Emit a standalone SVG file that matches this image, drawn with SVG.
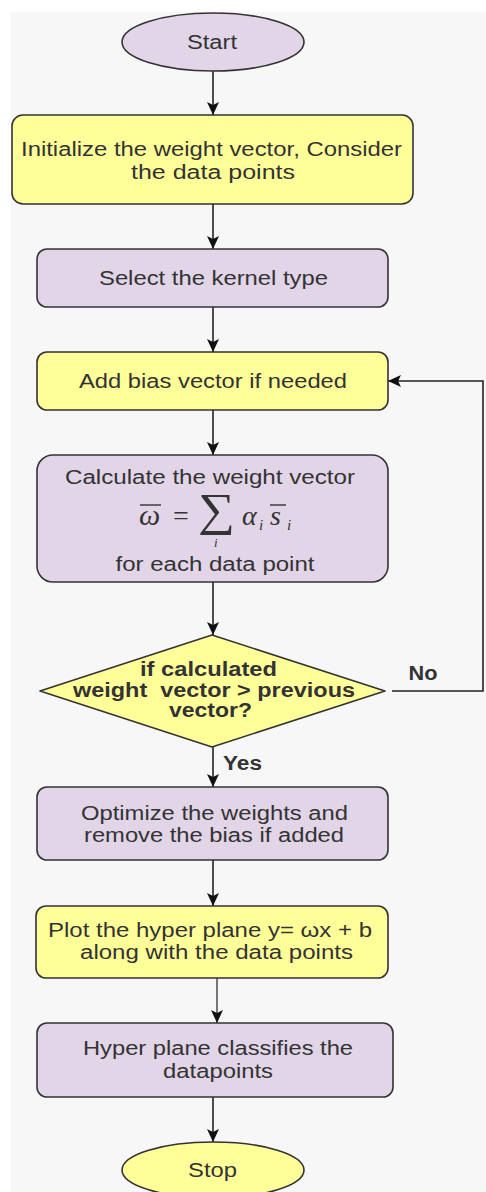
<svg xmlns="http://www.w3.org/2000/svg" width="486" height="1192" viewBox="0 0 486 1192">
<style>
.t{font-family:"Liberation Sans",Arial,sans-serif;font-size:20px;fill:#333;text-anchor:middle;white-space:pre}
.b{font-weight:bold}
.p{fill:#e1d5e7;stroke:#333;stroke-width:1.6}
.y{fill:#ffff99;stroke:#333;stroke-width:1.6}
.c{stroke:#222;stroke-width:1.6;fill:none}
.m{font-family:"Liberation Serif","DejaVu Serif",serif;font-style:italic;fill:#333}
</style>
<defs>
<marker id="ah" markerUnits="userSpaceOnUse" markerWidth="14" markerHeight="14" viewBox="0 0 14 14" refX="13" refY="7" orient="auto">
<path d="M0,1 L13,7 L0,13 L3,7 Z" fill="#111"/>
</marker>
</defs>
<rect x="0" y="0" width="486" height="1192" fill="#ffffff"/>
<rect x="11" y="12" width="475" height="1180" fill="#f7f7f7"/>
<g id="connectors">
<line class="c" x1="213" y1="71" x2="213" y2="115" marker-end="url(#ah)"/>
<line class="c" x1="213" y1="204" x2="213" y2="249" marker-end="url(#ah)"/>
<line class="c" x1="213" y1="307" x2="213" y2="352" marker-end="url(#ah)"/>
<line class="c" x1="213" y1="410" x2="213" y2="455" marker-end="url(#ah)"/>
<line class="c" x1="213" y1="582" x2="213" y2="635" marker-end="url(#ah)"/>
<line class="c" x1="213" y1="747" x2="213" y2="787" marker-end="url(#ah)"/>
<line class="c" x1="213" y1="860" x2="213" y2="906" marker-end="url(#ah)"/>
<line class="c" x1="217" y1="978" x2="217" y2="1023" marker-end="url(#ah)" style="stroke:#555"/>
<line class="c" x1="213" y1="1097" x2="213" y2="1142" marker-end="url(#ah)"/>
<polyline class="c" points="392,691 483,691 483,381 388,381" marker-end="url(#ah)"/>
<text class="t b" x="423" y="680" textLength="29" lengthAdjust="spacingAndGlyphs">No</text>
<text class="t b" x="242.5" y="770" textLength="39" lengthAdjust="spacingAndGlyphs">Yes</text>
</g>
<g id="start">
<ellipse class="p" cx="213" cy="42" rx="91" ry="29"/>
<text class="t" x="212" y="49" textLength="50" lengthAdjust="spacingAndGlyphs">Start</text>
</g>
<g id="init">
<rect class="y" x="12" y="115" width="401" height="89" rx="11"/>
<text class="t" x="211.5" y="156" textLength="381" lengthAdjust="spacingAndGlyphs">Initialize the weight vector, Consider</text>
<text class="t" x="213" y="179" textLength="164" lengthAdjust="spacingAndGlyphs">the data points</text>
</g>
<g id="kernel">
<rect class="p" x="37" y="249" width="351" height="58" rx="10"/>
<text class="t" x="213.5" y="285" textLength="229" lengthAdjust="spacingAndGlyphs">Select the kernel type</text>
</g>
<g id="bias">
<rect class="y" x="37" y="352" width="351" height="58" rx="10"/>
<text class="t" x="213" y="388" textLength="268" lengthAdjust="spacingAndGlyphs">Add bias vector if needed</text>
</g>
<g id="calc">
<rect class="p" x="37" y="455" width="351" height="127" rx="16"/>
<text class="t" x="210" y="484" textLength="290" lengthAdjust="spacingAndGlyphs">Calculate the weight vector</text>
<text class="m" x="139" y="525" font-size="30">ω</text>
<line x1="140" y1="505" x2="161" y2="505" stroke="#333" stroke-width="1.4"/>
<text class="m" x="173" y="525" font-size="28" style="font-style:normal">=</text>
<text class="m" x="198" y="525" font-size="46" textLength="37" lengthAdjust="spacingAndGlyphs" style="font-style:normal">∑</text>
<text class="m" x="214" y="547" font-size="13">i</text>
<text class="m" x="242" y="525" font-size="28">α</text>
<text class="m" x="259" y="530" font-size="15">i</text>
<text class="m" x="270" y="525" font-size="28">s</text>
<line x1="270" y1="505" x2="286" y2="505" stroke="#333" stroke-width="1.4"/>
<text class="m" x="287" y="530" font-size="15">i</text>
<text class="t" x="215" y="571" textLength="199" lengthAdjust="spacingAndGlyphs">for each data point</text>
</g>
<g id="decision">
<polygon class="y" points="212,635 385,691 212,747 40,691" stroke-linejoin="round"/>
<text class="t b" x="208.5" y="676" textLength="137" lengthAdjust="spacingAndGlyphs">if calculated</text>
<text class="t b" x="214" y="697" textLength="282" lengthAdjust="spacingAndGlyphs">weight  vector &gt; previous</text>
<text class="t b" x="210.5" y="717" textLength="83" lengthAdjust="spacingAndGlyphs">vector?</text>
</g>
<g id="optimize">
<rect class="p" x="37" y="787" width="351" height="73" rx="10"/>
<text class="t" x="214.5" y="820" textLength="267" lengthAdjust="spacingAndGlyphs">Optimize the weights and</text>
<text class="t" x="214" y="842" textLength="260" lengthAdjust="spacingAndGlyphs">remove the bias if added</text>
</g>
<g id="plot">
<rect class="y" x="36" y="906" width="352" height="72" rx="10"/>
<text class="t" x="210" y="937" textLength="324" lengthAdjust="spacingAndGlyphs">Plot the hyper plane y= ωx + b</text>
<text class="t" x="216.5" y="959" textLength="273" lengthAdjust="spacingAndGlyphs">along with the data points</text>
</g>
<g id="classify">
<rect class="p" x="37" y="1023" width="356" height="74" rx="10"/>
<text class="t" x="218" y="1055" textLength="270" lengthAdjust="spacingAndGlyphs">Hyper plane classifies the</text>
<text class="t" x="218" y="1078" textLength="110" lengthAdjust="spacingAndGlyphs">datapoints</text>
</g>
<g id="stop">
<ellipse class="y" cx="213" cy="1170" rx="91" ry="28"/>
<text class="t" x="212.5" y="1177" textLength="49" lengthAdjust="spacingAndGlyphs">Stop</text>
</g>
</svg>
